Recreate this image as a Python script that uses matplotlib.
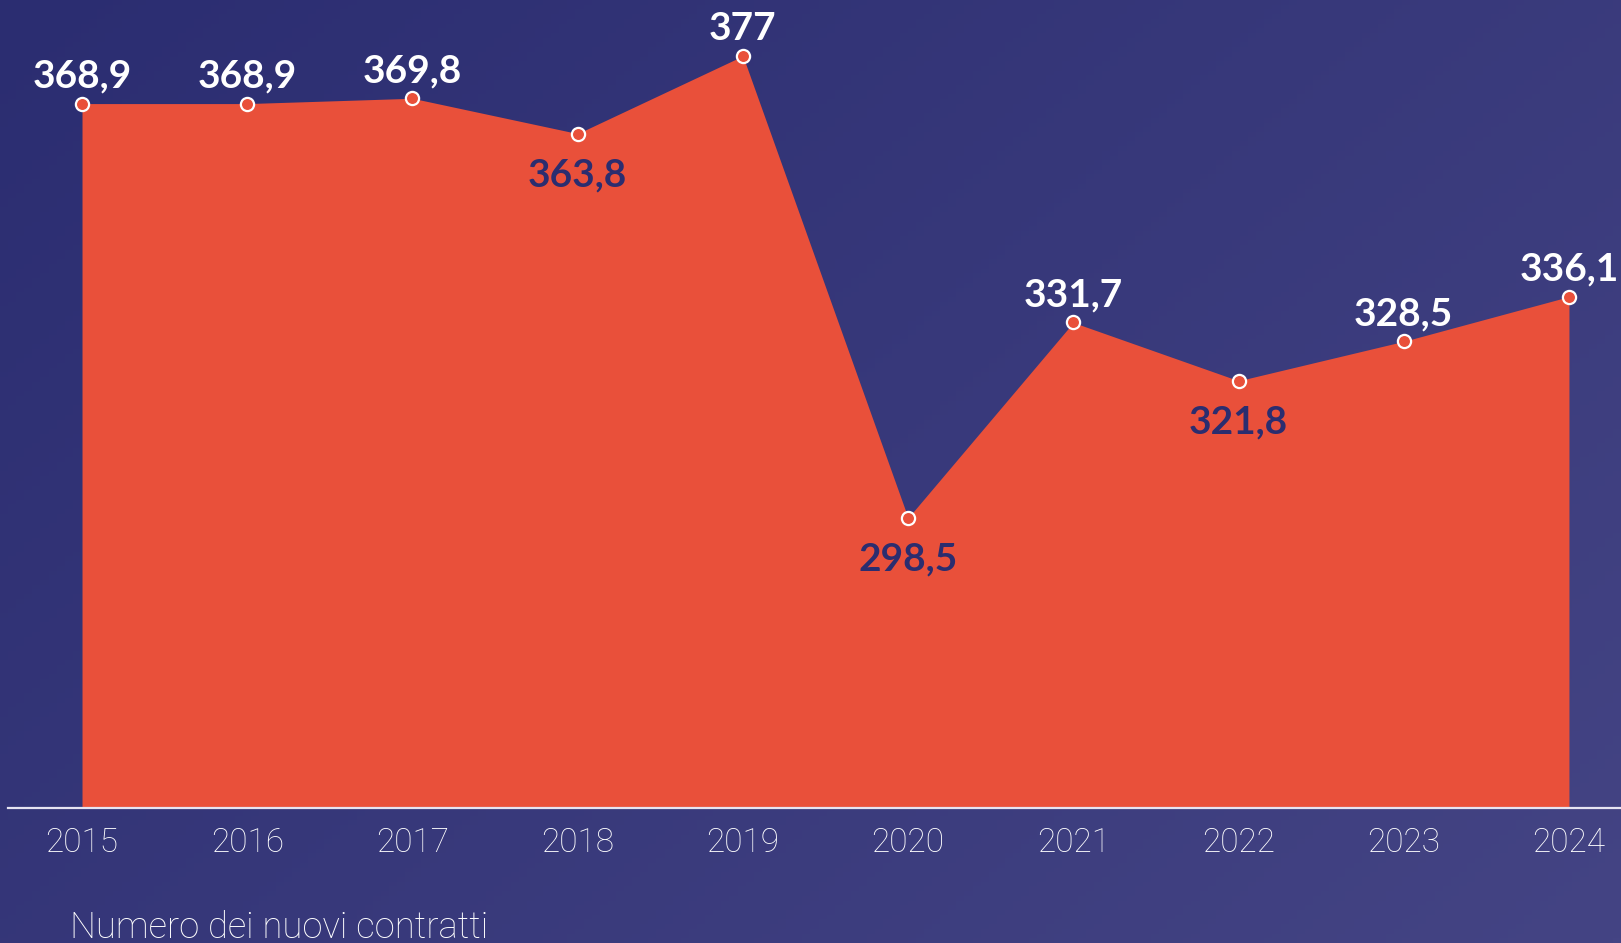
import numpy as np
import matplotlib
matplotlib.use("Agg")
from matplotlib import pyplot as plt

# data
years = [2015, 2016, 2017, 2018, 2019, 2020, 2021, 2022, 2023, 2024]
values = [368.9, 368.9, 369.8, 363.8, 377, 298.5, 331.7, 321.8, 328.5, 336.1]
labels = ["368,9", "368,9", "369,8", "363,8", "377", "298,5", "331,7", "321,8", "328,5", "336,1"]
label_below = [False, False, False, True, False, True, False, True, False, False]
subtitle = "Numero dei nuovi contratti"

ORANGE = "#e9503a"
NAVY = "#2b2d6f"

W, H = 1621, 943
fig = plt.figure(figsize=(W / 100, H / 100), dpi=100)

# background gradient, top-left dark to bottom-right lighter
bg = fig.add_axes([0, 0, 1, 1])
gx, gy = np.meshgrid(np.linspace(0, 1, 200), np.linspace(0, 1, 200))
t = (gx * 0.6 + gy * 0.4)
c0 = np.array([43, 45, 113]) / 255
c1 = np.array([68, 68, 132]) / 255
grad = c0[None, None, :] * (1 - t[..., None]) + c1[None, None, :] * t[..., None]
bg.imshow(grad, aspect="auto", extent=[0, 1, 0, 1], origin="upper")
bg.axis("off")

ax = fig.add_axes([8 / W, 1 - 808 / H, 1 - 8 / W, 808 / H])
ax.patch.set_alpha(0)
ax.set_xlim(2014.552, 2024.315)
ax.set_ylim(249.2, 386.5)

ax.fill_between(years, values, 249.2, color=ORANGE, linewidth=0, zorder=2)
ax.plot(years, values, linestyle="none", marker="o", markersize=9.5,
        markerfacecolor=ORANGE, markeredgecolor="white", markeredgewidth=1.6, zorder=4)

for x, v, s, below in zip(years, values, labels, label_below):
    if below:
        ax.annotate(s, (x, v), xytext=(0, -17), textcoords="offset points",
                    ha="center", va="top", color=NAVY, fontsize=28,
                    fontweight="bold", family="Lato", zorder=5)
    else:
        ax.annotate(s, (x, v), xytext=(0, 11.5), textcoords="offset points",
                    ha="center", va="baseline", color="white", fontsize=28,
                    fontweight="bold", family="Lato", zorder=5)

for side in ["top", "right", "left"]:
    ax.spines[side].set_visible(False)
ax.spines["bottom"].set_color("#e6e4f2")
ax.spines["bottom"].set_linewidth(1.6)
ax.spines["bottom"].set_zorder(6)

ax.set_yticks([])
ax.set_xticks(years)
ax.set_xticklabels([str(y) for y in years], color="white", fontsize=24,
                   fontweight="light", family="Roboto")
ax.tick_params(axis="x", length=0, pad=14)

fig.text(70 / W, 1 - 938 / H, subtitle, color="white", fontsize=26.3,
         fontweight="light", family="Roboto", ha="left", va="baseline")

fig.savefig("out.png", dpi=100)
